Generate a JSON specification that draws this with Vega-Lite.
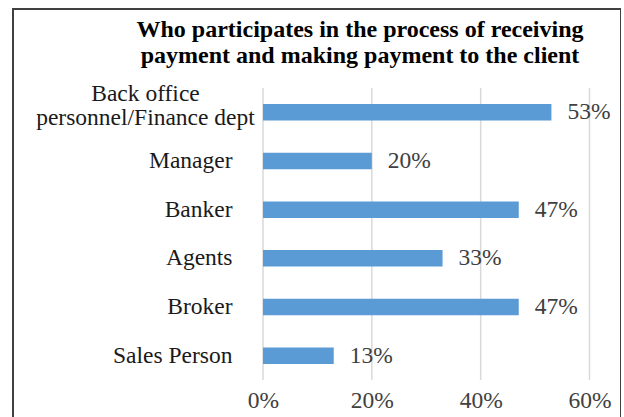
{
  "$schema": "https://vega.github.io/schema/vega-lite/v6.json",
  "width": 608,
  "height": 420,
  "autosize": "none",
  "padding": {"left": 13, "top": 9, "right": 0, "bottom": 0},
  "background": "white",
  "config": {"view": {"stroke": "#404040", "strokeWidth": 2}, "font": "Liberation Serif"},
  "title": {
    "text": ["Who participates in the process of receiving", "payment and making payment to the client"],
    "font": "Liberation Serif",
    "fontSize": 24,
    "fontWeight": "bold",
    "color": "#000000",
    "anchor": "middle",
    "frame": "group",
    "dx": 43,
    "offset": -59,
    "lineHeight": 26
  },
  "data": {
    "values": [
      {"cat": "Back office personnel/Finance dept", "v": 0.53, "label": "53%"},
      {"cat": "Manager", "v": 0.20, "label": "20%"},
      {"cat": "Banker", "v": 0.47, "label": "47%"},
      {"cat": "Agents", "v": 0.33, "label": "33%"},
      {"cat": "Broker", "v": 0.47, "label": "47%"},
      {"cat": "Sales Person", "v": 0.13, "label": "13%"}
    ]
  },
  "layer": [
    {
      "data": {"values": [{"g": 0}, {"g": 0.2}, {"g": 0.4}, {"g": 0.6}]},
      "mark": {"type": "rule", "color": "#d9d9d9", "strokeWidth": 1.5},
      "encoding": {
        "x": {"field": "g", "type": "quantitative", "scale": {"domain": [0, 0.6], "range": [250, 576.5]},
          "axis": {"title": null, "format": ".0%", "values": [0, 0.2, 0.4, 0.6], "grid": false, "domain": false, "ticks": false, "offset": -49, "labelFont": "Liberation Serif", "labelFontSize": 23.5, "labelColor": "#404040", "labelPadding": 8, "labelFlush": false}},
        "y": {"datum": 0, "type": "quantitative", "scale": {"domain": [0, 1], "range": [79, 371]}, "axis": null},
        "y2": {"datum": 1}
      }
    },
    {
      "mark": {"type": "bar", "color": "#5B9BD5"},
      "encoding": {
        "y": {"field": "cat", "type": "nominal", "sort": null,
          "scale": {"range": [79, 371], "paddingInner": 0.66, "paddingOuter": 0.33},
          "axis": {
            "title": null, "domain": false, "ticks": false, "offset": -250,
            "labelFont": "Liberation Serif", "labelFontSize": 23.5, "labelColor": "#1a1a1a", "labelLimit": 400, "labelLineHeight": 24,
            "labelExpr": "datum.value == 'Back office personnel/Finance dept' ? ['Back office', 'personnel/Finance dept'] : datum.label",
            "labelAlign": {"condition": {"test": "datum.value == 'Back office personnel/Finance dept'", "value": "center"}, "value": "right"},
            "labelPadding": {"condition": {"test": "datum.value == 'Back office personnel/Finance dept'", "value": 118}, "value": 31},
            "labelOffset": {"condition": {"test": "datum.value == 'Back office personnel/Finance dept'", "value": -18}, "value": 0}
          }},
        "x": {"field": "v", "type": "quantitative", "scale": {"domain": [0, 0.6], "range": [250, 576.5]}}
      }
    },
    {
      "mark": {"type": "text", "align": "left", "baseline": "middle", "dx": 16, "font": "Liberation Serif", "fontSize": 23.5, "color": "#404040"},
      "encoding": {
        "y": {"field": "cat", "type": "nominal", "sort": null,
          "scale": {"range": [79, 371], "paddingInner": 0.66, "paddingOuter": 0.33}, "axis": null},
        "x": {"field": "v", "type": "quantitative", "scale": {"domain": [0, 0.6], "range": [250, 576.5]}},
        "text": {"field": "label", "type": "nominal"}
      }
    }
  ],
  "resolve": {"scale": {"y": "independent"}}
}
